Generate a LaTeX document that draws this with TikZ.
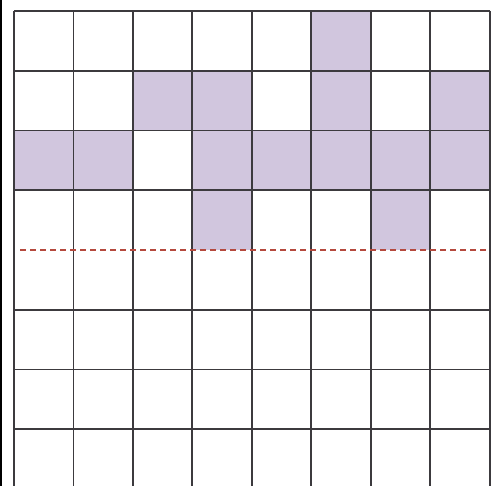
\documentclass[tikz,border=0pt]{standalone}
\usetikzlibrary{calc}
\definecolor{lilac}{HTML}{D1C6DE}
\definecolor{gridc}{HTML}{3C3A3E}
\definecolor{dashred}{HTML}{B5493E}
\tikzset{
  cellfill/.style={fill=lilac, draw=none},
  gridline/.style={draw=gridc, line width=1.8pt},
  redline/.style={draw=dashred, line width=1.6pt, dash pattern=on 5.5pt off 4.5pt},
}
\begin{document}
\begin{tikzpicture}[x=1pt,y=-1pt]
\useasboundingbox (0,0) rectangle (492,486);
\fill[white] (0,0) rectangle (492,486);
\def\xo{14}\def\dx{59.45}
\def\yo{11}\def\dy{59.75}
% shaded cells (row,col)
\foreach \r/\c in {0/5, 1/2,1/3,1/5,1/7, 2/0,2/1,2/3,2/4,2/5,2/6,2/7, 3/3,3/6}{
  \path[cellfill] (\xo+\c*\dx,\yo+\r*\dy) rectangle (\xo+\c*\dx+\dx,\yo+\r*\dy+\dy);
}
% vertical lines
\foreach \c in {0,...,8}{
  \draw[gridline] (\xo+\c*\dx,\yo) -- (\xo+\c*\dx,486);
}
% horizontal lines
\foreach \r in {0,1,2,3,5,6,7}{
  \draw[gridline] (\xo,\yo+\r*\dy) -- (\xo+8*\dx,\yo+\r*\dy);
}
% red dashed line
\draw[redline] (20,\yo+4*\dy) -- (\xo+8*\dx,\yo+4*\dy);
% left edge bar
\draw[black, line width=1.5pt] (0.75,0) -- (0.75,486);
\end{tikzpicture}
\end{document}
